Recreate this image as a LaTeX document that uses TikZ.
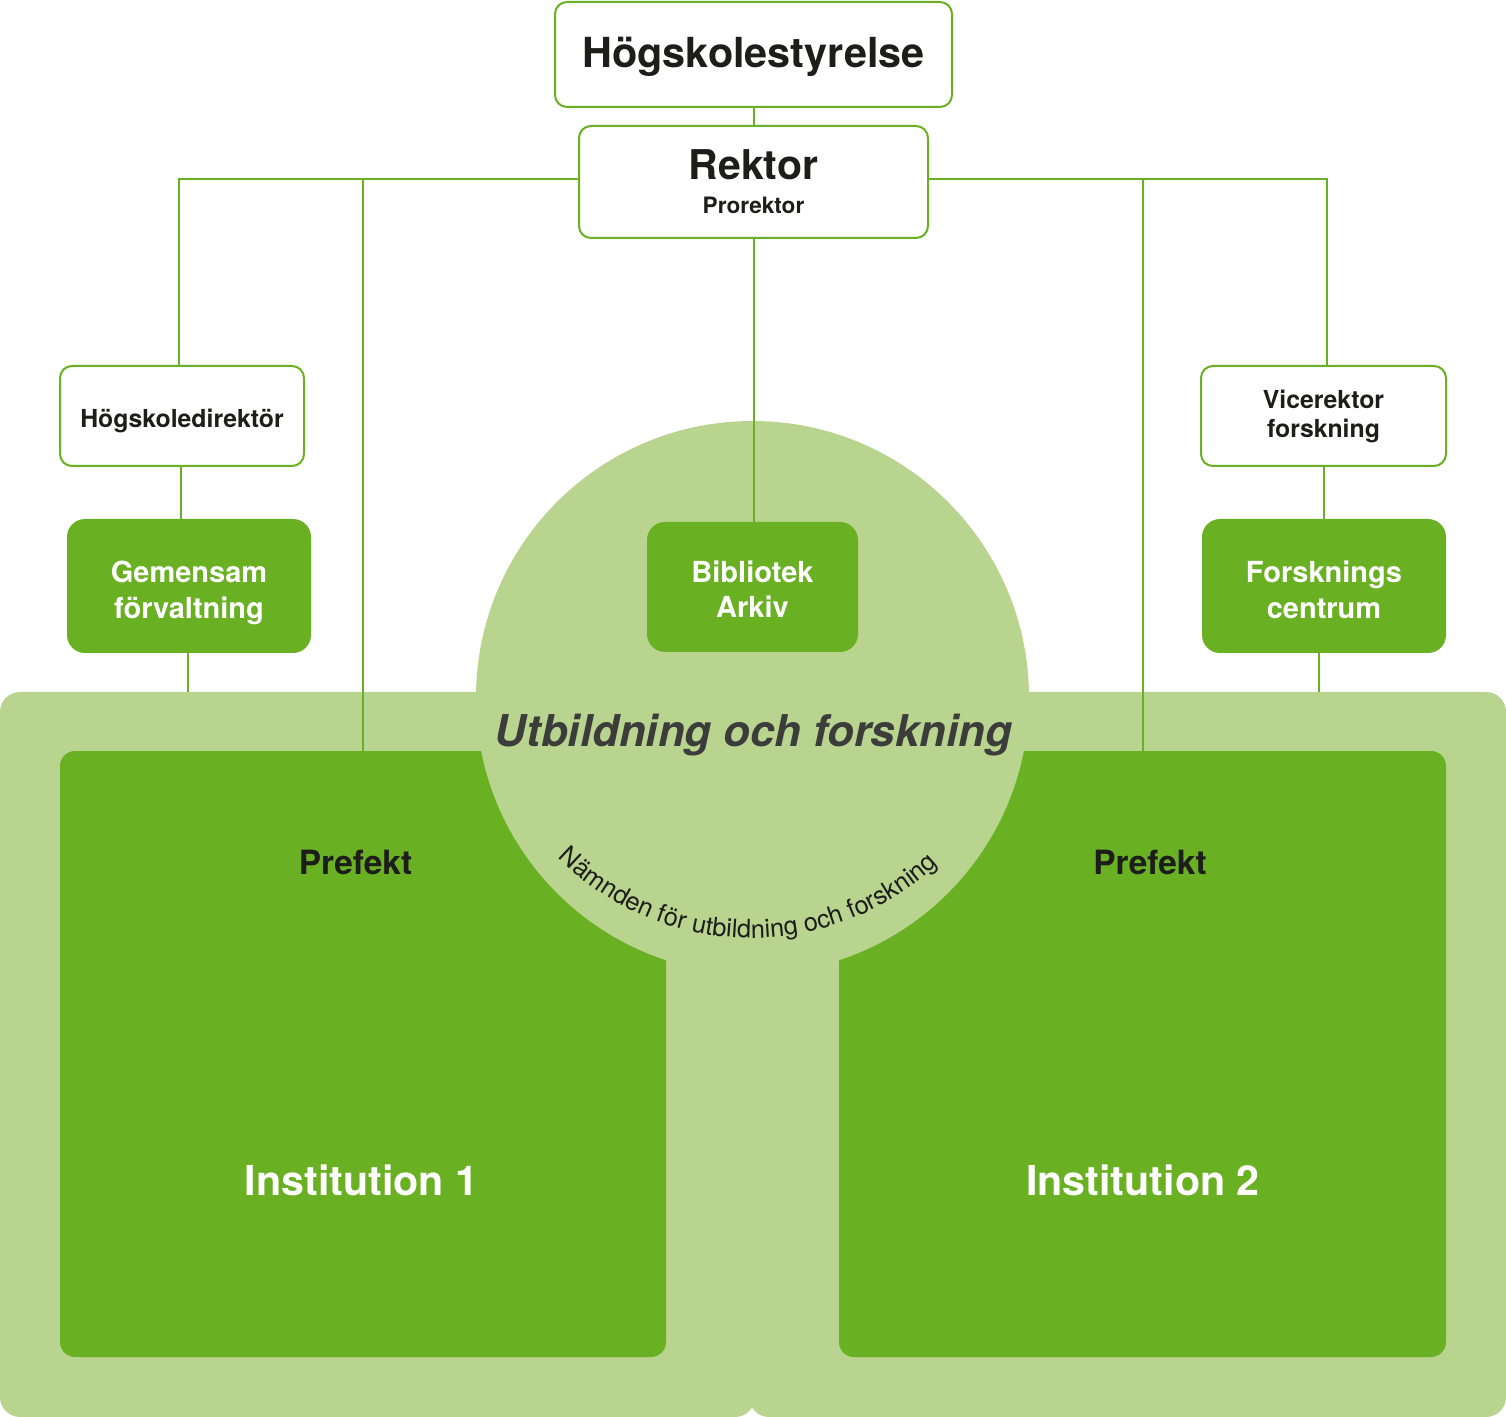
\documentclass[tikz,border=0pt]{standalone}
\usepackage{fontspec}
\setmainfont{TeX Gyre Heros}
\usetikzlibrary{decorations.text}
\definecolor{dg}{HTML}{6AB023}
\definecolor{lg}{HTML}{B8D48E}
\definecolor{ink}{HTML}{1D1D1B}
\definecolor{ink2}{HTML}{3C3C3B}
\begin{document}
\begin{tikzpicture}[x=0.5pt,y=-0.5pt,
  wbox/.style={draw=dg, line width=1pt, fill=white, rounded corners=6pt, text=ink, inner sep=0pt, align=center, text depth=0pt},
  gbox/.style={fill=dg, rounded corners=9pt, text=white, inner sep=0pt, align=center, text depth=0pt},
  conn/.style={draw=dg, line width=1pt},
  lbl/.style={anchor=base, inner sep=0pt}]
\useasboundingbox (0,0) rectangle (1506,1417);
% background
\fill[lg, rounded corners=10pt] (0,692) rectangle (755,1417);
\fill[lg, rounded corners=10pt] (749,692) rectangle (1506,1417);
\coordinate (bgtop) at (0,692);
% institutions
\node[gbox, minimum width=303pt, minimum height=303pt, rounded corners=7.5pt] (inst1) at (363,1054) {};
\node[gbox, minimum width=303.5pt, minimum height=303pt, rounded corners=7.5pt] (inst2) at (1142.5,1054) {};
% circle
\fill[lg] (752.5,697.5) circle[radius=138.25pt];
% labels in institutions
\node[lbl, text=ink, font=\bfseries\fontsize{16.7}{20}\selectfont] (pref1) at (355.5,874) {Prefekt};
\node[lbl, text=ink, font=\bfseries\fontsize{16.7}{20}\selectfont] (pref2) at (1150,874) {Prefekt};
\node[lbl, text=white, font=\bfseries\fontsize{20.6}{24}\selectfont] (inst1t) at (361.5,1195) {Institution 1};
\node[lbl, text=white, font=\bfseries\fontsize{20.6}{24}\selectfont] (inst2t) at (1143,1195) {Institution 2};
\node[lbl, text=ink2, font=\bfseries\itshape\fontsize{21.9}{26}\selectfont] (uof) at (753.5,747) {Utbildning och forskning};
% curved text
\path[decorate, decoration={text along path, text align=center, text color=ink,
  text={|\fontsize{12.7}{14}\selectfont|Nämnden för utbildning och forskning}}]
  (751,665) ++(140.9:273) arc[start angle=140.9, end angle=40.9, radius=273];
% boxes
\node[wbox, minimum width=198.5pt, minimum height=52.5pt, text height=13.5pt, font=\bfseries\fontsize{20.7}{24}\selectfont] (hs) at (753.5,54.5) {Högskolestyrelse};
\node[wbox, minimum width=174.5pt, minimum height=56pt, text height=32pt, font=\bfseries\fontsize{11.3}{17}\selectfont] (rek) at (753.5,182) {{\fontsize{20.5}{20}\selectfont Rektor}\\Prorektor};
\node[wbox, minimum width=122pt, minimum height=50pt, text height=12pt, font=\bfseries\fontsize{12.4}{14.5}\selectfont] (hd) at (182,416) {Högskoledirektör};
\node[wbox, minimum width=122.5pt, minimum height=50pt, text height=22pt, font=\bfseries\fontsize{12.4}{14.5}\selectfont] (vr) at (1323.5,416) {Vicerektor\\forskning};
\node[gbox, minimum width=122pt, minimum height=67pt, text height=32pt, font=\bfseries\fontsize{14.5}{17.5}\selectfont] (gf) at (189,586) {Gemensam\\förvaltning};
\node[gbox, minimum width=122pt, minimum height=67pt, text height=32pt, font=\bfseries\fontsize{14.5}{17.5}\selectfont] (fc) at (1324,586) {Forsknings\\centrum};
\node[gbox, minimum width=105.5pt, minimum height=65pt, text height=30.5pt, font=\bfseries\fontsize{14.5}{17.5}\selectfont] (ba) at (752.5,587) {Bibliotek\\Arkiv};
% connectors
\coordinate (rw) at ([yshift=1.5pt]rek.west);
\coordinate (re) at ([yshift=1.5pt]rek.east);
\draw[conn] (hs.south) -- (hs.south |- rek.north);
\draw[conn] (rw) -| ([xshift=-1.5pt]hd.north);
\draw[conn] (re) -| ([xshift=1.75pt]vr.north);
\draw[conn] (inst1.north |- rw) -- (inst1.north);
\draw[conn] (inst2.north |- re) -- (inst2.north);
\draw[conn] ([xshift=-0.5pt]hd.south) -- ([xshift=-0.5pt]hd.south |- gf.north);
\draw[conn] ([xshift=-0.5pt]gf.south) -- ([xshift=-0.5pt]gf.south |- bgtop);
\draw[conn] (vr.south) -- (vr.south |- fc.north);
\draw[conn] ([xshift=-2.5pt]fc.south) -- ([xshift=-2.5pt]fc.south |- bgtop);
\draw[conn] (rek.south) -- (rek.south |- ba.north);
\end{tikzpicture}
\end{document}
